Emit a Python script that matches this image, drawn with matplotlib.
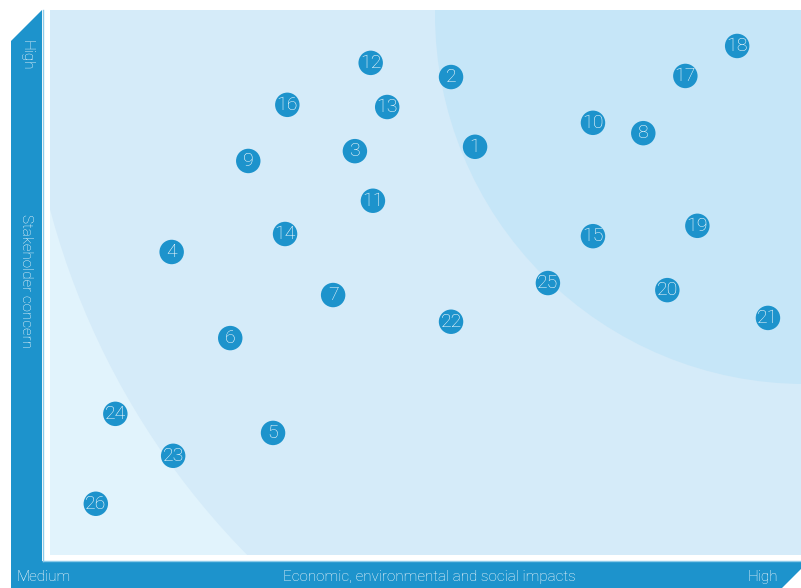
import numpy as np
import matplotlib
matplotlib.use("Agg")
import matplotlib.pyplot as plt
from matplotlib.patches import Rectangle, Circle, Polygon

# Materiality matrix: topic id, impact (x, 0-10), stakeholder concern (y, 0-10)
topics = [1, 2, 3, 4, 5, 6, 7, 8, 9, 10, 11, 12, 13,
          14, 15, 16, 17, 18, 19, 20, 21, 22, 23, 24, 25, 26]
impact = [5.66, 5.34, 4.06, 1.62, 2.97, 2.40, 3.77, 7.90, 2.64, 7.23, 4.30, 4.27, 4.49,
          3.13, 7.23, 3.16, 8.46, 9.15, 8.62, 8.22, 9.56, 5.34, 1.64, 0.87, 6.63, 0.61]
concern = [7.49, 8.77, 7.41, 5.56, 2.24, 3.98, 4.77, 7.74, 7.23, 7.93, 6.50, 9.03, 8.22,
           5.89, 5.85, 8.26, 8.79, 9.34, 6.04, 4.86, 4.35, 4.28, 1.82, 2.59, 4.99, 0.94]

x_label = "Economic, environmental and social impacts"
y_label = "Stakeholder concern"
low_label = "Medium"
high_label = "High"

BLUE = "#1d93cc"
OUTER = "#e1f3fc"
MIDDLE = "#d5ebf9"
INNER = "#c6e6f8"
FONT = ["Roboto", "DejaVu Sans"]

W, H = 801, 588
fig = plt.figure(figsize=(W / 100, H / 100), dpi=100)

# background axes in pixel units
bg = fig.add_axes([0, 0, 1, 1])
bg.set_xlim(0, W)
bg.set_ylim(H, 0)
bg.axis("off")

# panel and zones (circles centred near the top-right corner)
px0, py0, px1, py1 = 50, 10, 801, 555
panel = Rectangle((px0, py0), px1 - px0, py1 - py0, facecolor=OUTER, edgecolor="none")
bg.add_patch(panel)
for centre, r, c in [((801, 10), 777, MIDDLE), ((805, 14), 370, INNER)]:
    zone = Circle(centre, r, facecolor=c, edgecolor="none")
    bg.add_patch(zone)
    zone.set_clip_path(panel)

# axis bars
left_bar = Polygon([(11, 41), (42, 10), (42, 588), (11, 588)], closed=True,
                   facecolor=BLUE, edgecolor="none")
bottom_bar = Polygon([(11, 561), (801, 561), (801, 569), (782, 588), (11, 588)],
                     closed=True, facecolor=BLUE, edgecolor="none")
bg.add_patch(left_bar)
bg.add_patch(bottom_bar)
bg.plot([42.5, 42.5], [10, 560.5], color="#8ccbea", lw=1)
bg.plot([42.5, 801], [560.5, 560.5], color="#8ccbea", lw=1)

txt = dict(color="white", family=FONT, fontweight="light", fontsize=11)
bg.text(16, 577, low_label, ha="left", va="center", **txt)
bg.text(429, 577, x_label, ha="center", va="center", **txt)
bg.text(778, 577, high_label, ha="right", va="center", **txt)
bg.text(26, 55, high_label, ha="center", va="center", rotation=-90, **txt)
bg.text(26, 281, y_label, ha="center", va="center", rotation=-90, **txt)

# data axes over the panel
ax = fig.add_axes([px0 / W, (H - py1) / H, (px1 - px0) / W, (py1 - py0) / H])
ax.set_xlim(0, 10)
ax.set_ylim(0, 10)
ax.patch.set_alpha(0)
ax.axis("off")

ax.scatter(impact, concern, s=310, color=BLUE, edgecolors="none", zorder=3)
for t, x, y in zip(topics, impact, concern):
    ax.text(x, y, str(t), ha="center", va="center", color="white",
            family=FONT, fontweight="light", fontsize=14, zorder=4)

fig.savefig("out.png", dpi=100)
